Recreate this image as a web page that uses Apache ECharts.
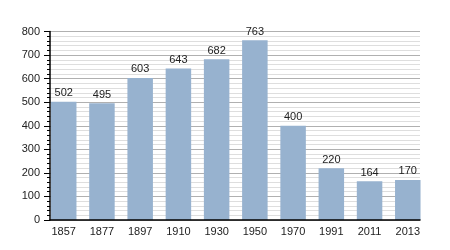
<!DOCTYPE html>
<html><head><meta charset="utf-8">
<script src="https://cdn.jsdelivr.net/npm/echarts@6/dist/echarts.min.js"></script>
<style>html,body{margin:0;padding:0;background:#fff}#c{width:450px;height:250px}</style>
</head><body><div id="c"></div>
<script>
var years = ['1857','1877','1897','1910','1930','1950','1970','1991','2011','2013'];
var population = [502,495,603,643,682,763,400,220,164,170];
var yTicks = [0,100,200,300,400,500,600,700,800];

var font = 'Liberation Sans, Arial';
var chart = echarts.init(document.getElementById('c'), null, {renderer:'canvas'});
chart.setOption({
  animation:false,
  grid:[
    {left:50,right:30,top:31.5,bottom:30,containLabel:false},
    {left:44.6,right:23.1,top:31.5,bottom:30,containLabel:false}
  ],
  xAxis:[
    {type:'category',gridIndex:0,data:years,z:10,
      axisLine:{lineStyle:{color:'#000',width:1.5}},
      splitLine:{show:false},
      axisTick:{show:false},axisLabel:{show:false}},
    {type:'category',gridIndex:1,data:years,
      axisLine:{show:false},axisTick:{show:false},
      axisLabel:{color:'#222',fontFamily:font,fontSize:11,margin:6}}
  ],
  yAxis:[
    {type:'value',gridIndex:0,min:yTicks[0],max:yTicks[yTicks.length-1],interval:100,
      axisLine:{show:true,lineStyle:{color:'#000',width:1.5}},
      axisTick:{show:true,length:6,lineStyle:{color:'#000'}},
      minorTick:{show:true,splitNumber:5,length:3,lineStyle:{color:'#000'}},
      splitLine:{show:true,lineStyle:{color:'#b0b0b0',width:1}},
      minorSplitLine:{show:true,lineStyle:{color:'#dedede',width:1}},
      axisLabel:{color:'#222',fontFamily:font,fontSize:11,margin:10}},
    {type:'value',gridIndex:1,min:yTicks[0],max:yTicks[yTicks.length-1],interval:100,
      show:false}
  ],
  series:[{type:'bar',xAxisIndex:1,yAxisIndex:1,data:population,barWidth:25.5,
    itemStyle:{color:'#97b2cf'},
    label:{show:true,position:'top',distance:3,color:'#222',fontFamily:font,fontSize:11}
  }]
});
</script></body></html>
